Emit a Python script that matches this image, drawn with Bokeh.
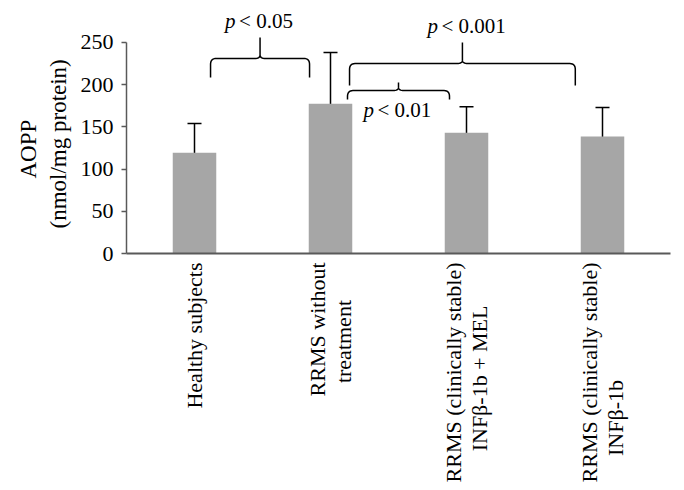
import math
from bokeh.plotting import figure
from bokeh.models import (ColumnDataSource, FactorRange, Range1d, FixedTicker,
                          Whisker, TeeHead, Title)
from bokeh.core.properties import value
from bokeh.embed import file_html
from bokeh.resources import INLINE

# ---- data ----
groups = ["Healthy subjects",
          "RRMS without\ntreatment",
          "RRMS (clinically stable)\nINF\u03b2-1b + MEL",
          "RRMS (clinically stable)\nINF\u03b2-1b"]
aopp_mean = [119.5, 177.5, 143, 138.5]
aopp_upper = [154, 238, 174, 173]
aopp_lower = [86.5, 118.5, 112.5, 103]
y_ticks = [0, 50, 100, 150, 200, 250]
y_title = ["AOPP", "(nmol/mg protein)"]

# comparisons: (from group index, to group index, p label)
comp_from = [0, 1, 1]
comp_to = [1, 3, 2]
comp_p = ["< 0.05", "< 0.001", "< 0.01"]

# ---- styles ----
FONT = "Liberation Serif"
FS = "22px"
FS_P = "21px"
BAR_COLOR = "#a6a6a6"
AXIS_COLOR = "#595959"
# invisible padding (blank glyphs, nbsp) to centre the 2nd line of each label
pad_blank = [0, 2, 2, 7]
pad_nbsp = [0, 1, 2, 1]
# offsets (px from the axis bottom) that centre each title line on 0-250
title_offset = [75, 25]
title_standoff = [-6, 13]
# bracket geometry (offsets from group centres, heights)
br_off0 = [0.118, 0.14, 0.125]
br_off1 = [-0.154, -0.20, -0.125]
br_end = [208.5, 199, 182.5]
br_bar = [231, 225, 193]
br_peak = [256, 250, 202.5]
br_text_y = [276, 270, 169.5]

factors = []
for g, nb, nn in zip(groups, pad_blank, pad_nbsp):
    parts = g.split("\n")
    if len(parts) > 1:
        parts[1] = parts[1] + "\u00a0" * nn + "\u2800" * nb
    factors.append("\n".join(parts))

p = figure(width=680, height=488, x_range=FactorRange(*factors),
           y_range=Range1d(0, 287.9), output_backend="svg",
           toolbar_location=None, min_border_left=126, min_border_right=10,
           min_border_top=10, min_border_bottom=235)
p.outline_line_color = None
p.grid.grid_line_color = None

src = ColumnDataSource(dict(g=factors, m=aopp_mean, up=aopp_upper, lo=aopp_lower))
p.vbar(x="g", top="m", width=0.32, source=src, fill_color=BAR_COLOR,
       line_color=None)
head = dict(size=14, line_color="black", line_width=1.5)
p.add_layout(Whisker(base="g", upper="up", lower="lo", source=src,
                     line_color="black", line_width=1.5,
                     upper_head=TeeHead(**head), lower_head=TeeHead(**head)))

# y axis
ya = p.yaxis[0]
ya.ticker = FixedTicker(ticks=y_ticks)
ya.bounds = (0, 250)
ya.axis_line_color = AXIS_COLOR
ya.axis_line_width = 1.5
ya.major_tick_line_color = AXIS_COLOR
ya.major_tick_line_width = 1.5
ya.major_tick_out = 5
ya.major_tick_in = 0
ya.minor_tick_line_color = None
ya.major_label_text_font = FONT
ya.major_label_text_font_size = FS
ya.major_label_text_color = "black"
ya.major_label_standoff = 8

# x axis
xa = p.xaxis[0]
xa.axis_line_color = AXIS_COLOR
xa.axis_line_width = 2
xa.major_tick_line_color = None
xa.major_tick_out = 0
xa.major_tick_in = 0
xa.minor_tick_line_color = None
xa.major_label_orientation = math.pi / 2
xa.major_label_text_font = FONT
xa.major_label_text_font_size = FS
xa.major_label_text_line_height = 1.05
xa.major_label_text_color = "black"
xa.major_label_standoff = 9

# y axis title: two lines, each centred on the 0-250 span
for line, off, so in zip(reversed(y_title), reversed(title_offset),
                         reversed(title_standoff)):
    p.add_layout(Title(text=line, align="left", offset=off,
                       text_font=FONT, text_font_size="23px",
                       text_font_style="normal", text_color="black",
                       standoff=so), "left")


def brace(x0, x1, ye, yb, yp, rx=0.04, ry=7.0, n=8):
    xm = (x0 + x1) / 2
    xs, ys = [], []

    def quad(a, c, b):
        for i in range(n + 1):
            t = i / n
            xs.append((1 - t) ** 2 * a[0] + 2 * (1 - t) * t * c[0] + t ** 2 * b[0])
            ys.append((1 - t) ** 2 * a[1] + 2 * (1 - t) * t * c[1] + t ** 2 * b[1])

    xs.append(x0); ys.append(ye)
    quad((x0, yb - ry), (x0, yb), (x0 + rx, yb))
    quad((xm - rx, yb), (xm, yb), (xm, yb + ry * 0.6))
    xs.append(xm); ys.append(yp)
    quad((xm, yb + ry * 0.6), (xm, yb), (xm + rx, yb))
    quad((x1 - rx, yb), (x1, yb), (x1, yb - ry))
    xs.append(x1); ys.append(ye)
    return xs, ys


bx, by, tx, ty, tt = [], [], [], [], []
for k in range(len(comp_from)):
    x0 = comp_from[k] + 0.5 + br_off0[k]
    x1 = comp_to[k] + 0.5 + br_off1[k]
    xs, ys = brace(x0, x1, br_end[k], br_bar[k], br_peak[k])
    bx.append(xs); by.append(ys)
    tx.append((x0 + x1) / 2); ty.append(br_text_y[k]); tt.append(comp_p[k])

p.multi_line(xs=bx, ys=by, line_color="black", line_width=1.5)

tsrc = ColumnDataSource(dict(x=tx, y=ty, t=tt, pp=["p"] * len(tt)))
p.text(x="x", y="y", text="pp", source=tsrc, x_offset=-35,
       text_align="left", text_baseline="middle", text_font=value(FONT),
       text_font_style="italic", text_font_size=FS_P, text_color="black")
p.text(x="x", y="y", text="t", source=tsrc, x_offset=-21,
       text_align="left", text_baseline="middle", text_font=value(FONT),
       text_font_size=FS_P, text_color="black")

open("out.html", "w").write(file_html(p, INLINE))
